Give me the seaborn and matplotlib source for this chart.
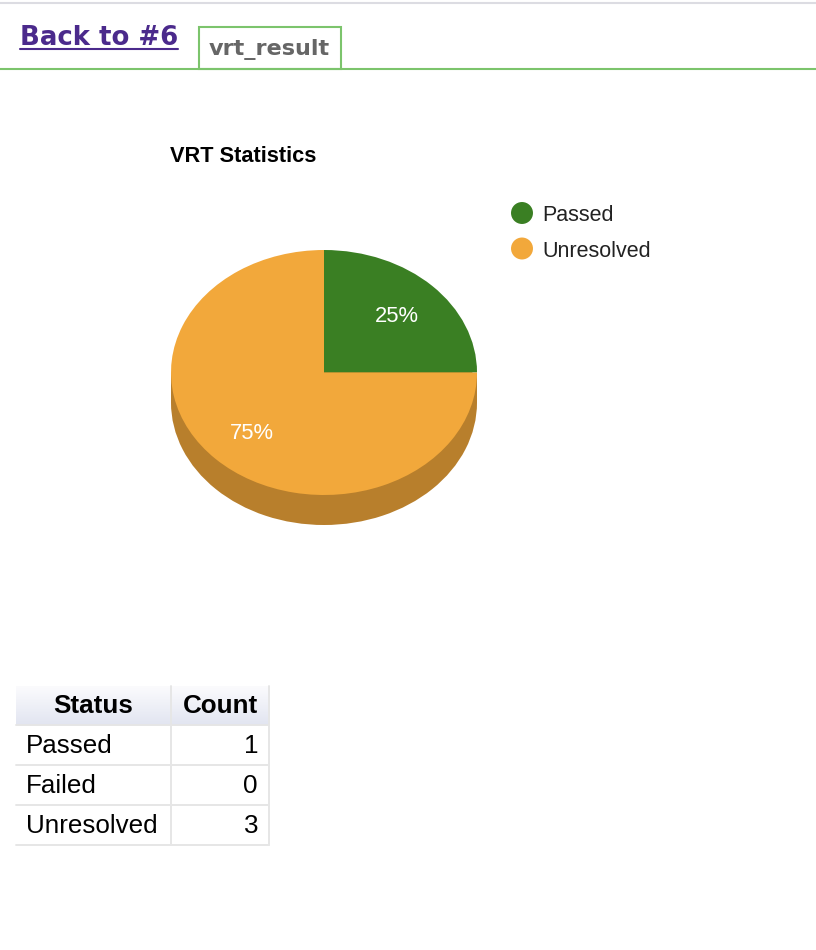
import numpy as np
import matplotlib
matplotlib.use("Agg")
import matplotlib.pyplot as plt
from matplotlib.colors import LinearSegmentedColormap
from matplotlib.patches import Rectangle
import seaborn as sns

# data
statuses = ["Passed", "Failed", "Unresolved"]
counts = [1, 0, 3]
pie_labels = ["Passed", "Unresolved"]
pie_values = [1, 3]
pie_colors = ["#3a7f23", "#f2a83b"]
side_color = "#b87f2c"

sns.set_theme(style="white")
plt.rcParams["font.family"] = ["Liberation Sans", "DejaVu Sans"]

W, H = 816, 950
fig = plt.figure(figsize=(W / 100, H / 100), dpi=100)
bg = fig.add_axes([0, 0, 1, 1])
bg.axis("off")

# page header
bg.plot([0, W], [3, 3], color="#dcdce2", lw=1.5)
bg.plot([0, W], [68.5, 68.5], color="#7cc46c", lw=1.5)
bg.add_patch(Rectangle((198.5, 26.5), 142.5, 42, fill=False,
                       edgecolor="#7cc46c", lw=1.5))
bg.text(20, 45, "Back to #6", family="DejaVu Sans", weight="bold",
        fontsize=18.7, color="#4b2a8c")
bg.plot([20, 178], [48.5, 48.5], color="#4b2a8c", lw=1.5)
bg.text(209, 55, "vrt_result", family="DejaVu Sans", weight="bold",
        fontsize=16.1, color="#666666")

# title + legend
bg.text(170, 162, "VRT Statistics", weight="bold", fontsize=15.7, color="#000000")
for i, (lab, col) in enumerate(zip(pie_labels, pie_colors)):
    bg.scatter(522, 213 + 35.5 * i, s=250, color=col, edgecolor="none")
    bg.text(542, 221 + 36 * i, lab, fontsize=15.5, color="#222222")

# 3d-ish pie: darker copy underneath gives the rim
d = 30 / 122.5
pax = fig.add_axes([171 / W, (H - 525) / H, 306 / W, 275 / H])
pax.pie([sum(pie_values)], colors=[side_color], center=(0, -d),
        wedgeprops=dict(linewidth=0, clip_on=False))
pax.add_patch(Rectangle((-1, -d), 2, d, color=side_color, lw=0, clip_on=False))
wedges, texts, autotexts = pax.pie(
    pie_values, colors=pie_colors, startangle=90, counterclock=False,
    autopct="%1.0f%%", pctdistance=0.67,
    wedgeprops=dict(linewidth=0, clip_on=False),
    textprops=dict(color="white", fontsize=15.8))
for t in autotexts:
    t.set_verticalalignment("center_baseline")
pax.set_aspect("auto")
pax.set_xlim(-1, 1)
pax.set_ylim(-1 - d, 1)
pax.axis("off")

# table
tx0, tx1, tdiv = 16, 269, 171
head_top, head_bot, row_h = 686, 725, 40
grad = LinearSegmentedColormap.from_list("hdr", ["#fbfbfd", "#e2e5f1"])
bg.imshow(np.linspace(0, 1, 40).reshape(-1, 1), cmap=grad, aspect="auto",
          extent=[tx0, tx1, head_bot, head_top], zorder=0)
line_c = "#e6e6e6"
for k in range(len(statuses) + 1):
    y = head_bot + row_h * k
    bg.plot([tx0, tx1], [y, y], color=line_c, lw=1.4)
bottom = head_bot + row_h * len(statuses)
bg.plot([tdiv, tdiv], [head_top, bottom], color=line_c, lw=1.4)
bg.plot([tx1, tx1], [head_top, bottom], color=line_c, lw=1.4)

bg.text((tx0 + tdiv) / 2, 713, "Status", ha="center", weight="bold",
        fontsize=18.7, color="#000000")
bg.text((tdiv + tx1) / 2, 713, "Count", ha="center", weight="bold",
        fontsize=18.7, color="#000000")
for i, (s, c) in enumerate(zip(statuses, counts)):
    yb = 753 + row_h * i
    bg.text(26, yb, s, fontsize=18.7, color="#000000")
    bg.text(258, yb, str(c), ha="right", fontsize=18.7, color="#000000")

bg.set_xlim(0, W)
bg.set_ylim(H, 0)

fig.savefig("out.png", dpi=100)
